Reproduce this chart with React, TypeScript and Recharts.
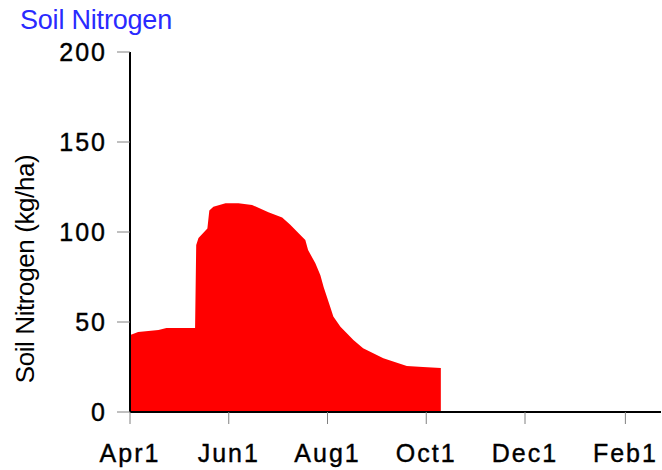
import { AreaChart, Area, XAxis, YAxis } from 'recharts'

// days after Apr 1
const days = [0, 1, 5, 17.6, 22.5, 40.2, 40.9, 42.3, 47.8, 49, 51.5, 59, 67, 75.4, 85.5, 94, 99, 104, 108.3, 110, 114.5, 117.6, 119.6, 123.8, 125.6, 130, 138, 144, 156.5, 171, 181, 192, 192.01]
const nitrogen = [43, 43, 44.4, 45.5, 46.6, 46.6, 92.8, 96.7, 102, 112, 114, 116, 116, 115, 111, 108, 104, 99.4, 95.5, 90, 82.6, 76, 69.4, 58, 53, 47.4, 40, 35.4, 29.8, 25.5, 25, 24.4, null]

const tickDays = [0, 61, 122, 183, 244, 306]
const tickLabels = ['Apr1', 'Jun1', 'Aug1', 'Oct1', 'Dec1', 'Feb1']
const yTicks = [0, 50, 100, 150, 200]

const FONT = '"Liberation Sans", Arial, sans-serif'
const TICK = { fill: '#000', fontSize: 25, fontFamily: FONT, letterSpacing: 2, stroke: '#000', strokeWidth: 0.4 }

const chartData = days.map((d, i) => ({ day: d, n: nitrogen[i] }))

const yLabel = ({ viewBox }: any) => {
  const x = viewBox.x + 25
  const y = viewBox.y + viewBox.height / 2 + 37
  return (
    <text x={x} y={y} transform={`rotate(-90, ${x}, ${y})`} textAnchor="middle" dominantBaseline="central"
      fontSize={26} fontFamily={FONT} fill="#000" letterSpacing={-0.4}>
      Soil Nitrogen (kg/ha)
    </text>
  )
}

export default function App() {
  return (
    <div style={{ position: 'absolute', left: 0, top: 0, width: 662, height: 470, background: '#fff' }}>
      <div style={{ position: 'absolute', left: 20, top: 5, fontFamily: FONT, fontSize: 27, color: '#2a2aff', lineHeight: '30px', letterSpacing: -0.2 }}>
        Soil Nitrogen
      </div>
      <AreaChart width={662} height={470} data={chartData} margin={{ top: 52, right: 1, bottom: 0, left: 0 }}>
        <XAxis dataKey="day" type="number" domain={[0, 328]} ticks={tickDays} height={58}
          tickFormatter={(v: number) => tickLabels[tickDays.indexOf(v)]}
          tick={TICK} tickSize={12} tickMargin={20} tickLine={{ stroke: '#808080' }}
          axisLine={{ stroke: '#000', strokeWidth: 2 }} interval={0} allowDataOverflow />
        <YAxis domain={[0, 200]} ticks={yTicks} width={130} tick={TICK} tickSize={13} tickMargin={10}
          tickLine={{ stroke: '#808080' }} axisLine={{ stroke: '#000', strokeWidth: 2 }} interval={0}
          label={{ content: yLabel }} />
        <Area type="linear" dataKey="n" stroke="none" fill="#ff0000" fillOpacity={1} isAnimationActive={false}
          activeDot={false} dot={false} />
      </AreaChart>
    </div>
  )
}
